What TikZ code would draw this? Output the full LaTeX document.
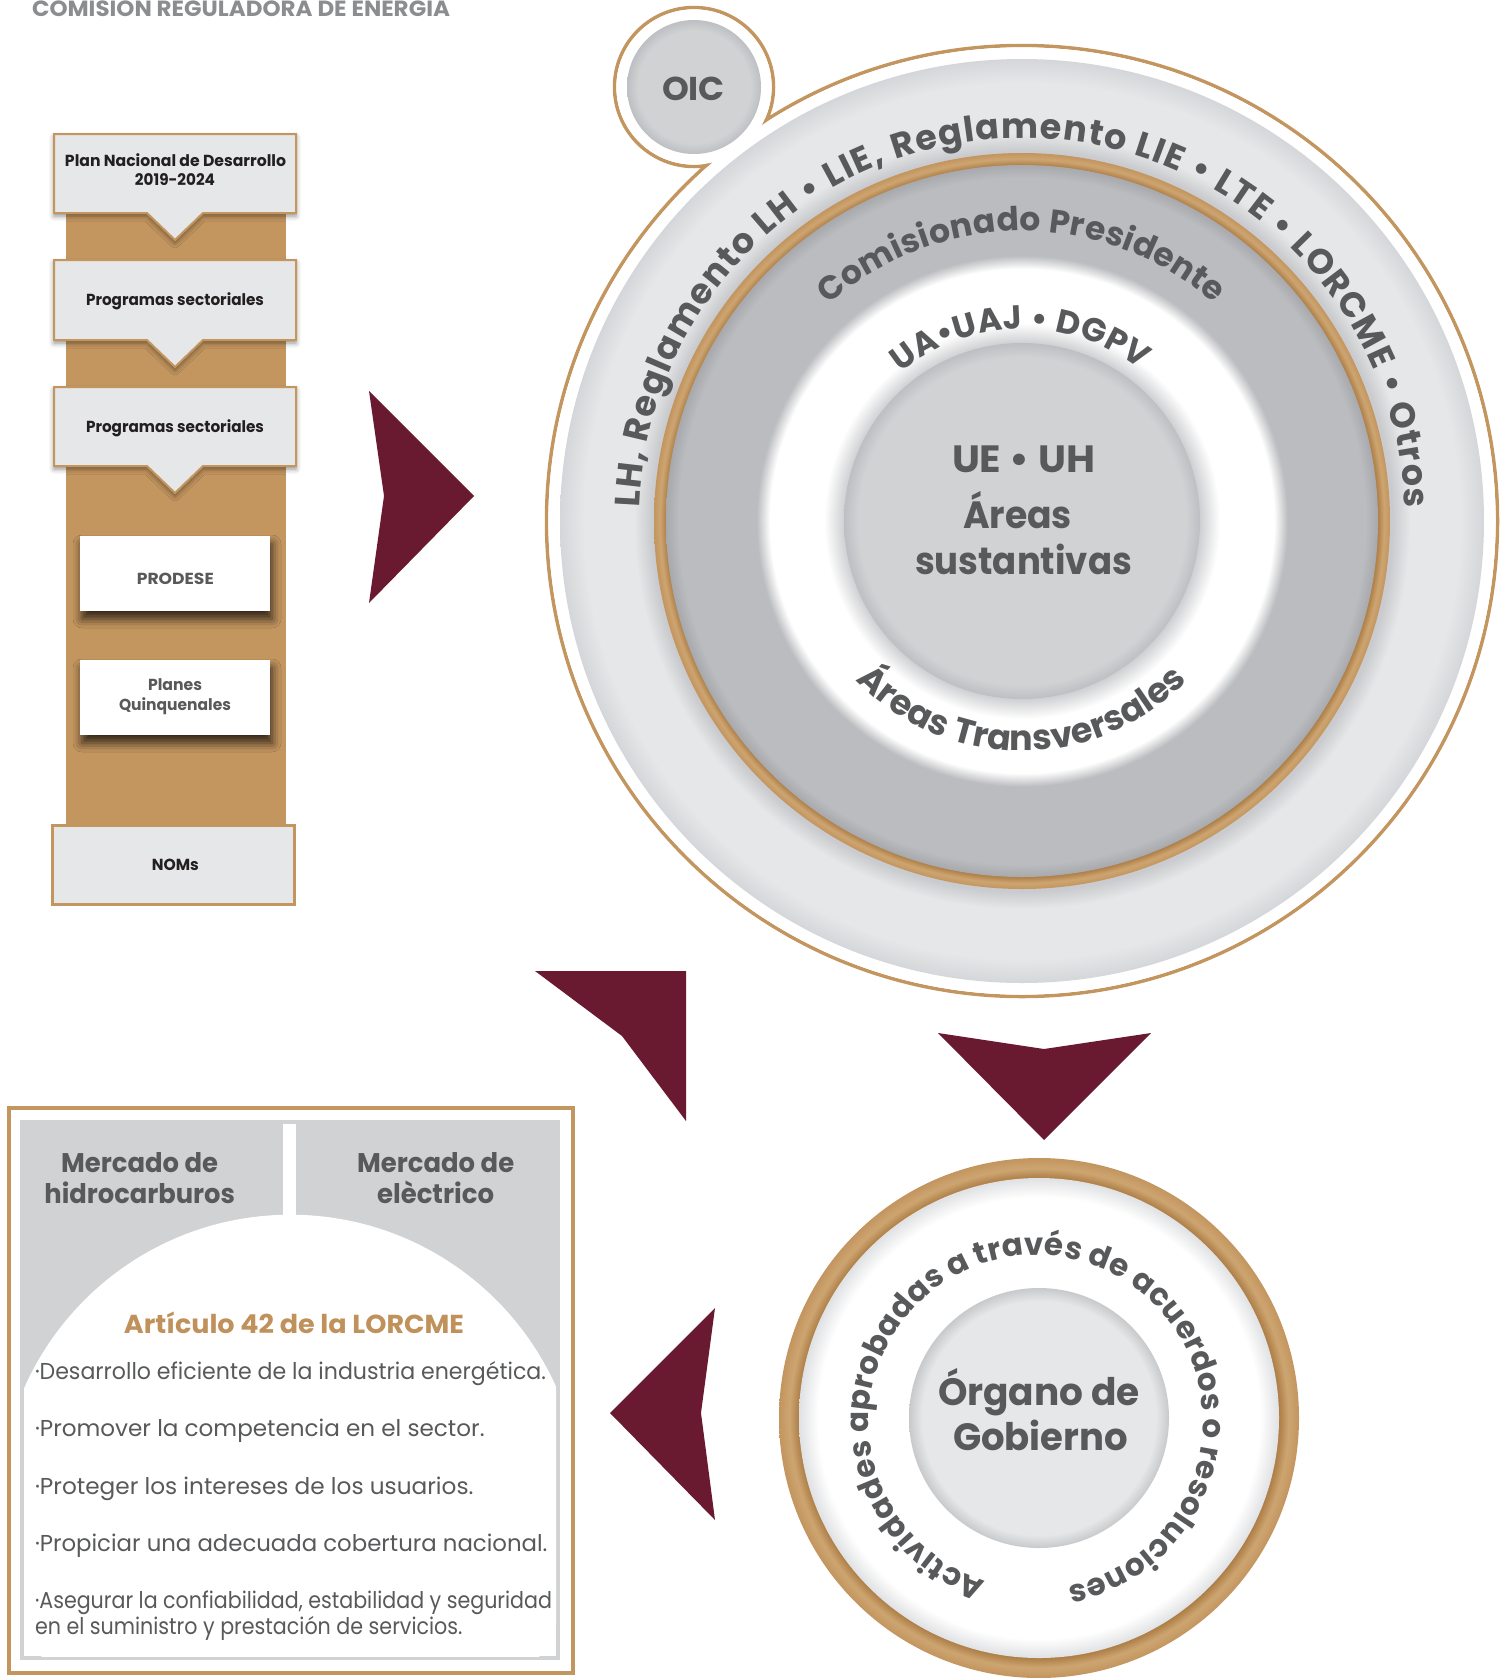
\documentclass[tikz,border=0pt]{standalone}
\usepackage{fontspec}
\usepackage{graphicx}
\setmainfont{Poppins}
\usetikzlibrary{decorations.text,shadows.blur}
\definecolor{goldc}{HTML}{C3955F}
\definecolor{golddk}{HTML}{AD7D45}
\definecolor{goldlt}{HTML}{CDA571}
\definecolor{wine}{HTML}{6A1A30}
\definecolor{lgray}{HTML}{E6E7E8}
\definecolor{lgshad}{HTML}{CACBCE}
\definecolor{lgedge}{HTML}{D5D6D9}
\definecolor{mgray}{HTML}{D1D2D4}
\definecolor{mgedge}{HTML}{BEBFC2}
\definecolor{dgray}{HTML}{BBBCBF}
\definecolor{dgedge}{HTML}{A8A9AC}
\definecolor{wshad}{HTML}{CFD0D2}
\definecolor{txtg}{HTML}{58595B}
\definecolor{txtk}{HTML}{231F20}
\definecolor{titleg}{HTML}{8C8D8F}
\definecolor{goldtxt}{HTML}{C0915A}
\definecolor{bwedge}{HTML}{E0E1E3}
\definecolor{binedge}{HTML}{C8C9CB}
\pgfdeclareradialshading{lgdisk}{\pgfpoint{0bp}{0bp}}{color(0bp)=(lgray); color(20.05bp)=(lgshad); color(21bp)=(lgray); color(23.7bp)=(lgray); color(25bp)=(lgedge); color(50bp)=(lgedge)}
\pgfdeclareradialshading{goldring}{\pgfpoint{0bp}{0bp}}{color(0bp)=(golddk); color(24.15bp)=(golddk); color(24.6bp)=(goldlt); color(25bp)=(goldc); color(50bp)=(goldc)}
\pgfdeclareradialshading{dgdisk}{\pgfpoint{0bp}{0bp}}{color(0bp)=(white); color(12.5bp)=(wshad); color(13.9bp)=(white); color(17.7bp)=(white); color(18.65bp)=(dgray); color(24.1bp)=(dgray); color(25bp)=(dgedge); color(50bp)=(dgedge)}
\pgfdeclareradialshading{indisk}{\pgfpoint{0bp}{0bp}}{color(0bp)=(mgray); color(23bp)=(mgray); color(25bp)=(mgedge); color(50bp)=(mgedge)}
\pgfdeclareradialshading{bgold}{\pgfpoint{0bp}{0bp}}{color(0bp)=(golddk); color(23.05bp)=(golddk); color(24bp)=(goldlt); color(25bp)=(goldc); color(50bp)=(goldc)}
\pgfdeclareradialshading{bwhite}{\pgfpoint{0bp}{0bp}}{color(0bp)=(white); color(23bp)=(white); color(25bp)=(bwedge); color(50bp)=(bwedge)}
\pgfdeclareradialshading{bin}{\pgfpoint{0bp}{0bp}}{color(0bp)=(lgray); color(22.5bp)=(lgray); color(25bp)=(binedge); color(50bp)=(binedge)}
\pgfdeclareradialshading{oicdisk}{\pgfpoint{0bp}{0bp}}{color(0bp)=(mgray); color(21bp)=(mgray); color(25bp)=(mgedge); color(50bp)=(mgedge)}
\newcommand\fitw[2]{\resizebox{#1pt}{\height}{#2}}
\begin{document}
\begin{tikzpicture}[x=1pt,y=-1pt,
  lbl/.style={inner sep=0pt, outer sep=0pt, anchor=base},
  lblw/.style={inner sep=0pt, outer sep=0pt, anchor=base west},
  boxtxt/.style={font=\bfseries\fontsize{16}{16}\selectfont, text=txtk},
  graytxt/.style={font=\bfseries\fontsize{16}{16}\selectfont, text=txtg},
  bigtxt/.style={font=\bfseries\fontsize{38}{38}\selectfont, text=txtg},
  headtxt/.style={font=\bfseries\fontsize{27}{27}\selectfont, text=txtg},
  bultxt/.style={font=\fontsize{23}{23}\selectfont, text=txtg},
  notchbox/.style={fill=lgray, draw=goldc, line width=2pt, blur shadow={shadow xshift=0pt, shadow yshift=-3pt, shadow blur radius=5pt, shadow opacity=45}},
  whitebox/.style={fill=white, blur shadow={shadow xshift=2pt, shadow yshift=-8pt, shadow blur radius=9pt, shadow opacity=75}},
  arrowshape/.style={fill=wine}
]
\useasboundingbox (0,0) rectangle (1507,1678);
\coordinate (C1) at (1022,521);
\coordinate (C2) at (694,87);
\coordinate (C3) at (1039,1418);
\coordinate (C4) at (1036,1422);

% title
\node[lblw, text=titleg, font=\bfseries\fontsize{22}{22}\selectfont] (title) at (32,17) {\fitw{418}{COMISIÓN REGULADORA DE ENERGÍA}};

% left column
\fill[goldc] (66,200) rectangle (286,826);
\path[notchbox] (54,134) -- (296,134) -- (296,213) -- (203,213) -- (175,240) -- (147,213) -- (54,213) -- cycle;
\path[notchbox] (54,260) -- (296,260) -- (296,340) -- (203,340) -- (175,367) -- (147,340) -- (54,340) -- cycle;
\path[notchbox] (54,387) -- (296,387) -- (296,466) -- (203,466) -- (175,493) -- (147,466) -- (54,466) -- cycle;
\path[whitebox] (80,536) rectangle (270,611);
\path[whitebox] (80,660) rectangle (270,735);
\path[fill=lgray, draw=goldc, line width=3pt] (52,825.5) rectangle (294.5,904.5);

\node[lbl, boxtxt] (pnd1) at (175.5,166.7) {\fitw{221}{Plan Nacional de Desarrollo}};
\node[lbl, boxtxt] (pnd2) at (175,185.7) {\fitw{80}{2019-2024}};
\node[lbl, boxtxt] (ps1) at (175,305) {\fitw{178}{Programas sectoriales}};
\node[lbl, boxtxt] (ps2) at (175,432.3) {\fitw{178}{Programas sectoriales}};
\node[lbl, graytxt] (prod) at (175.3,584) {\fitw{77}{PRODESE}};
\node[lbl, graytxt] (plan1) at (175,690.7) {\fitw{54}{Planes}};
\node[lbl, graytxt] (plan2) at (175,710) {\fitw{112}{Quinquenales}};
\node[lbl, boxtxt] (noms) at (175.3,870.7) {\fitw{47}{NOMs}};

% arrows
\path[arrowshape] (369,391) -- (474,496) -- (369,603) -- (384,496) -- cycle;
\path[arrowshape] (535,971) -- (686,971) -- (686,1121) -- (622,1036) -- cycle;
\path[arrowshape] (938,1033) -- (1044,1049) -- (1151,1033) -- (1044,1140) -- cycle;
\path[arrowshape] (715,1308) -- (701,1413) -- (715,1520) -- (610,1413) -- cycle;

% big circle
\draw[goldc, line width=3.5pt] (C1) circle[radius=475.5] (C2) circle[radius=79.5];
\fill[white] (C1) circle[radius=473.6] (C2) circle[radius=77.6];
\shade[shading=lgdisk] (C1) circle[radius=462];
\shade[shading=oicdisk] (C2) circle[radius=67];
\shade[shading=goldring] (C1) circle[radius=368];
\shade[shading=dgdisk] (C1) circle[radius=356];
\shade[shading=indisk] (C1) circle[radius=178];

\node[lbl, font=\bfseries\fontsize{33}{33}\selectfont, text=txtg] (oic) at (693.5,100) {\fitw{63}{OIC}};

\path[decorate, decoration={text along path, text color=txtg, text align={fit to path},
  text={|\bfseries\fontsize{35}{35}\selectfont|LH, Reglamento LH • LIE, Reglamento LIE • LTE • LORCME • Otros}}]
  ([shift={(182:383)}]C1) arc[start angle=182, end angle=358, radius=383];
\path[decorate, decoration={text along path, text color=txtg, text align={fit to path},
  text={|\bfseries\fontsize{33}{33}\selectfont|Comisionado Presidente}}]
  ([shift={(228.2:290)}]C1) arc[start angle=228.2, end angle=311.5, radius=290];
\path[decorate, decoration={text along path, text color=txtg, text align={fit to path},
  text={|\bfseries\fontsize{33}{33}\selectfont|UA•UAJ • DGPV}}]
  ([shift={(230.7:192)}]C1) arc[start angle=230.7, end angle=308, radius=192];
\path[decorate, decoration={text along path, text color=txtg, text align={fit to path},
  text={|\bfseries\fontsize{35}{35}\selectfont|Áreas Transversales}}]
  ([shift={(136.2:230)}]C1) arc[start angle=136.2, end angle=44, radius=230];

\node[lbl, bigtxt] (ue) at (1023.5,472) {\fitw{143}{UE • UH}};
\node[lbl, bigtxt] (are) at (1017.5,528) {\fitw{109}{Áreas}};
\node[lbl, bigtxt] (sus) at (1023.5,574) {\fitw{217}{sustantivas}};

% bottom circle
\shade[shading=bgold] (C3) circle[radius=260];
\shade[shading=bwhite] (C3) circle[radius=240];
\shade[shading=bin] (C3) circle[radius=130];
\node[lbl, bigtxt] (org1) at (1039,1405) {\fitw{202}{Órgano de}};
\node[lbl, bigtxt] (org2) at (1040.5,1450) {\fitw{175}{Gobierno}};
\path[decorate, decoration={text along path, text color=txtg, text align={fit to path},
  text={|\bfseries\fontsize{31}{31}\selectfont|Actividades aprobadas a través de acuerdos o resoluciones}}]
  ([shift={(107.4:167)}]C4) arc[start angle=107.4, end angle=439, radius=167];

% bottom-left box
\draw[goldc, line width=4pt] (9,1108) rectangle (573,1673);
\fill[mgray] (20,1120) rectangle (560,1660);
\begin{scope}
  \clip (24,1124) rectangle (556,1656);
  \fill[white] (290.4,1505.7) circle[radius=291];
  \fill[white] (24,1388) rectangle (556,1656);
\end{scope}
\fill[white] (283,1124) rectangle (296,1220);
\node[lbl, headtxt] (mh1) at (139.6,1172) {\fitw{157}{Mercado de}};
\node[lbl, headtxt] (mh2) at (139.7,1203.6) {\fitw{190.6}{hidrocarburos}};
\node[lbl, headtxt] (me1) at (435.7,1172) {\fitw{157}{Mercado de}};
\node[lbl, headtxt] (me2) at (435.6,1203.6) {\fitw{117}{elèctrico}};
\node[lbl, font=\bfseries\fontsize{26}{26}\selectfont, text=goldtxt] (art) at (294,1333) {\fitw{340}{Artículo 42 de la LORCME}};
\node[lblw, bultxt] (b1) at (35,1379) {\fitw{511}{·Desarrollo eficiente de la industria energética.}};
\node[lblw, bultxt] (b2) at (35,1436.7) {\fitw{449.6}{·Promover la competencia en el sector.}};
\node[lblw, bultxt] (b3) at (35,1494) {\fitw{438.5}{·Proteger los intereses de los usuarios.}};
\node[lblw, bultxt] (b4) at (35,1551) {\fitw{512.5}{·Propiciar una adecuada cobertura nacional.}};
\node[lblw, bultxt] (b5) at (35,1608.7) {\fitw{517}{·Asegurar la confiabilidad, estabilidad y seguridad}};
\node[lblw, bultxt] (b6) at (35,1634.6) {\fitw{427.5}{en el suministro y prestación de servicios.}};
\end{tikzpicture}
\end{document}
